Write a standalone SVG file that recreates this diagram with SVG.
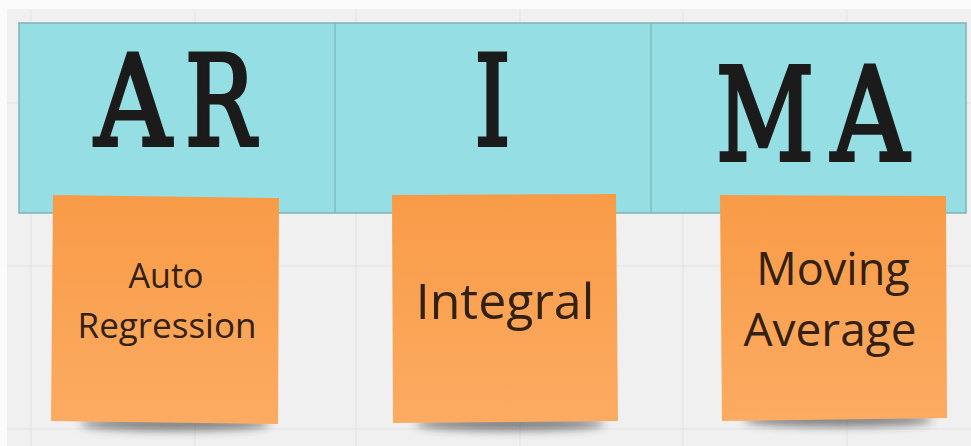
<svg xmlns="http://www.w3.org/2000/svg" width="971" height="446" viewBox="0 0 971 446">
  <style>
    .grid { stroke: #e2e2e2; stroke-width: 1; }
    .band { fill: #95dfe4; stroke: #7fb3b6; stroke-width: 1.5; }
    .div { stroke: #7fb3b6; stroke-width: 1.2; }
    .big { font-family: "DejaVu Serif Condensed", "DejaVu Serif", serif; font-weight: normal; fill: #1b1b1b; stroke: #1b1b1b; stroke-width: 4; stroke-linejoin: miter; text-anchor: middle; }
    .note { fill: url(#noteGrad); }
    .label { font-family: "Open Sans", "Noto Sans", sans-serif; fill: #33210f; text-anchor: middle; }
    .shadow { fill: #2a2a2a; opacity: 0.55; filter: url(#blur); }
  </style>
  <defs>
    <linearGradient id="noteGrad" x1="0" y1="0" x2="0" y2="1">
      <stop offset="0" stop-color="#f89b47"/>
      <stop offset="1" stop-color="#fcab62"/>
    </linearGradient>
    <filter id="blur" x="-20%" y="-100%" width="140%" height="300%">
      <feGaussianBlur stdDeviation="4"/>
    </filter>
  </defs>

  <rect x="0" y="0" width="971" height="446" fill="#f0f0f0"/>
  <rect x="0" y="0" width="971" height="9" fill="#fbfbfb"/>
  <rect x="0" y="0" width="7" height="446" fill="#fbfbfb"/>

  <g id="grid">
    <line class="grid" x1="31" y1="9" x2="31" y2="446"/>
    <line class="grid" x1="195" y1="9" x2="195" y2="446"/>
    <line class="grid" x1="356" y1="9" x2="356" y2="446"/>
    <line class="grid" x1="520" y1="9" x2="520" y2="446"/>
    <line class="grid" x1="683" y1="9" x2="683" y2="446"/>
    <line class="grid" x1="847" y1="9" x2="847" y2="446"/>
    <line class="grid" x1="7" y1="103" x2="971" y2="103"/>
    <line class="grid" x1="7" y1="266" x2="971" y2="266"/>
    <line class="grid" x1="7" y1="429" x2="971" y2="429"/>
  </g>

  <g id="band">
    <rect class="band" x="19" y="23" width="947" height="190"/>
    <line class="div" x1="335" y1="23" x2="335" y2="213"/>
    <line class="div" x1="651" y1="23" x2="651" y2="213"/>
  </g>

  <g id="connectors"></g>

  <g id="node-ar">
    <text class="big" y="145" font-size="126"><tspan x="133" textLength="76" lengthAdjust="spacingAndGlyphs">A</tspan></text>
    <text class="big" y="145" font-size="126"><tspan x="220" textLength="70" lengthAdjust="spacingAndGlyphs">R</tspan></text>
  </g>
  <g id="node-i">
    <text class="big" x="492.5" y="145" font-size="126" textLength="36" lengthAdjust="spacingAndGlyphs">I</text>
  </g>
  <g id="node-ma">
    <text class="big" y="160" font-size="129"><tspan x="765" textLength="98" lengthAdjust="spacingAndGlyphs">M</tspan></text>
    <text class="big" y="160" font-size="129"><tspan x="870" textLength="77" lengthAdjust="spacingAndGlyphs">A</tspan></text>
  </g>

  <g id="note-auto-regression">
    <ellipse class="shadow" cx="175" cy="424" rx="95" ry="7"/>
    <polygon class="note" points="53,195 279,198 278,424 51,421"/>
    <text class="label" x="166" y="288" font-size="34">Auto</text>
    <text class="label" x="167" y="338" font-size="35">Regression</text>
  </g>

  <g id="note-integral">
    <ellipse class="shadow" cx="510" cy="424" rx="95" ry="7"/>
    <polygon class="note" points="392,195 616,194 618,421 393,423"/>
    <text class="label" x="505" y="319" font-size="50">Integral</text>
  </g>

  <g id="note-moving-average">
    <ellipse class="shadow" cx="838" cy="420" rx="95" ry="7"/>
    <polygon class="note" points="720,195 946,196 947,418 722,421"/>
    <text class="label" x="833" y="285" font-size="45">Moving</text>
    <text class="label" x="830" y="346" font-size="46">Average</text>
  </g>
</svg>
